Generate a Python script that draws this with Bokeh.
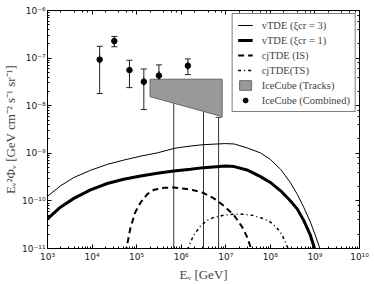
import numpy as np
from bokeh.plotting import figure
from bokeh.models import (ColumnDataSource, Whisker, TeeHead, LogAxis,
                          CustomJSTickFormatter, Legend, LegendItem)
from bokeh.embed import file_html
from bokeh.resources import INLINE

# ---- data ----
e_xi3 = [1e3, 1.95e3, 3.9e3, 9.2e3, 2.2e4, 5.1e4, 1.23e5, 2.9e5, 6.8e5, 9.5e5, 1.62e6, 3.2e6, 9.8e6, 1.55e7,
         3e7, 6e7, 1e8, 1.7e8, 2.8e8, 4e8, 5.6e8, 7.9e8, 1.02e9, 1.29e9, 1.4e9]
f_xi3 = [1.25e-10, 2.07e-10, 3.1e-10, 4.39e-10, 5.85e-10, 7.19e-10, 8.71e-10, 1.02e-9, 1.26e-9, 1.33e-9, 1.42e-9,
         1.52e-9, 1.6e-9, 1.57e-9, 1.3e-9, 1.02e-9, 7.43e-10, 4.6e-10, 2.44e-10, 1.39e-10, 7.36e-11, 3.59e-11,
         1.9e-11, 1e-11, 6e-12]

e_xi1 = [1e3, 1.95e3, 3.9e3, 9.2e3, 2.2e4, 5.1e4, 1.23e5, 2.9e5, 6.8e5, 1.62e6, 3.2e6, 9.8e6, 1.55e7,
         3e7, 6e7, 1e8, 1.7e8, 2.8e8, 4e8, 5.6e8, 7.9e8, 9.8e8, 1.08e9]
f_xi1 = [4.2e-11, 7.36e-11, 1.13e-10, 1.71e-10, 2.32e-10, 2.85e-10, 3.34e-10, 3.8e-10, 4.25e-10, 4.6e-10,
         5.0e-10, 5.4e-10, 5.25e-10, 4.47e-10, 3.24e-10, 2.44e-10, 1.63e-10, 1.01e-10, 6.8e-11, 3.9e-11,
         1.9e-11, 1e-11, 6e-12]

e_is = [5.3e4, 5.9e4, 7.2e4, 9.3e4, 1.23e5, 1.74e5, 2.45e5, 4.1e5, 6.8e5, 1.35e6, 1.9e6, 3.2e6, 5.4e6,
        9.1e6, 1.55e7, 2.35e7, 3e7, 3.7e7, 4.2e7]
f_is = [5e-12, 1e-11, 2.6e-11, 5.8e-11, 9.3e-11, 1.39e-10, 1.71e-10, 1.88e-10, 1.92e-10, 1.77e-10, 1.68e-10,
        1.46e-10, 1.13e-10, 7.9e-11, 4.9e-11, 2.8e-11, 1.75e-11, 1e-11, 6e-12]

e_ts = [1.2e6, 1.41e6, 1.9e6, 2.7e6, 3.8e6, 5.4e6, 9.1e6, 1.55e7, 2.6e7, 4.3e7, 7.2e7, 1e8, 1.4e8, 1.8e8,
        2.5e8, 2.8e8]
f_ts = [6e-12, 1e-11, 1.9e-11, 2.95e-11, 3.9e-11, 4.5e-11, 5.0e-11, 5.25e-11, 5.25e-11, 4.9e-11, 4.2e-11,
        3.6e-11, 2.7e-11, 2.0e-11, 1e-11, 6e-12]

comb_e = [1.48e4, 3.16e4, 6.9e4, 1.45e5, 3.16e5, 1.41e6]
comb_f = [9.3e-8, 2.28e-7, 5.6e-8, 3.2e-8, 4.3e-8, 6.9e-8]
comb_hi = [1.77e-7, 2.85e-7, 9e-8, 5.9e-8, 7.2e-8, 9.6e-8]
comb_lo = [1.8e-8, 1.73e-7, 2.4e-8, 8.3e-9, 2.0e-8, 4.5e-8]

ul_e = [6.8e5, 3.16e6, 6.9e6]
ul_hi = [1.4e-8, 1.4e-8, 5.7e-9]
ul_lo = [1e-12, 1e-12, 1e-12]

tr_e = [2e5, 8.3e6, 8.3e6, 2e5]
tr_f = [3.6e-8, 3.6e-8, 5.9e-9, 1.55e-8]

SERIF = "Liberation Serif"
SANS = "DejaVu Sans"

p = figure(width=374, height=284, x_axis_type="log", y_axis_type="log",
           x_range=(1e3, 1e10), y_range=(1e-11, 1e-6),
           output_backend="svg", toolbar_location=None,
           min_border_left=47, min_border_right=15, min_border_top=10, min_border_bottom=34)
p.grid.visible = False
p.outline_line_color = "black"
p.outline_line_width = 1
p.background_fill_color = "white"
p.border_fill_color = "white"

sup_code = """
const e = Math.round(Math.log10(tick));
const sup = {'-':'\u207b','0':'\u2070','1':'\u00b9','2':'\u00b2','3':'\u00b3','4':'\u2074','5':'\u2075','6':'\u2076','7':'\u2077','8':'\u2078','9':'\u2079'};
return '10' + String(e).split('').map(c => sup[c]).join('');
"""
for ax in (p.xaxis[0], p.yaxis[0]):
    ax.formatter = CustomJSTickFormatter(code=sup_code)
    ax.major_tick_in = 4
    ax.major_tick_out = 0
    ax.minor_tick_in = 2
    ax.minor_tick_out = 0
    ax.axis_line_color = None
    ax.major_label_text_font = SANS
    ax.major_label_text_font_size = "9px"
    ax.major_label_text_color = "#222222"
    ax.axis_label_text_font = SERIF
    ax.axis_label_text_font_style = "normal"
    ax.axis_label_text_font_size = "13px"
    ax.major_label_standoff = 3

p.xaxis[0].axis_label = "E\u1d65 [GeV]"
p.yaxis[0].axis_label = "E\u1d65\u00b2\u03a6\u1d65 [GeV cm\u207b\u00b2 s\u207b\u00b9 sr\u207b\u00b9]"
p.xaxis[0].axis_label_standoff = 2
p.yaxis[0].axis_label_standoff = 1
p.yaxis[0].major_label_standoff = 2

empty = CustomJSTickFormatter(code="return '';")
for loc in ("above", "right"):
    ax = LogAxis(formatter=empty, major_tick_in=4, major_tick_out=0,
                 minor_tick_in=2, minor_tick_out=0, axis_line_color=None,
                 major_label_standoff=0, major_label_text_font_size="0px")
    p.add_layout(ax, loc)

# IceCube tracks band
r_tr = p.patch(tr_e, tr_f, fill_color="#999999", line_color="#666666", line_width=1)

# model curves
r3 = p.line(e_xi3, f_xi3, line_color="black", line_width=1)
r1 = p.line(e_xi1, f_xi1, line_color="black", line_width=3)
ris = p.line(e_is, f_is, line_color="black", line_width=2, line_dash="6 4")
rts = p.line(e_ts, f_ts, line_color="black", line_width=1.5, line_dash="3 3 1 3")

# upper-limit style bars
ul_src = ColumnDataSource(dict(x=ul_e, hi=ul_hi, lo=ul_lo))
p.add_layout(Whisker(source=ul_src, base="x", upper="hi", lower="lo", dimension="height",
                     line_color="#333333", line_width=1,
                     upper_head=TeeHead(size=6, line_color="#333333", line_width=1),
                     lower_head=None))

# combined points
c_src = ColumnDataSource(dict(x=comb_e, y=comb_f, hi=comb_hi, lo=comb_lo))
p.add_layout(Whisker(source=c_src, base="x", upper="hi", lower="lo", dimension="height",
                     line_color="#222222", line_width=1,
                     upper_head=TeeHead(size=6, line_color="#222222", line_width=1),
                     lower_head=TeeHead(size=6, line_color="#222222", line_width=1)))
r_bar = p.scatter("x", "y", source=c_src, marker="dash", angle=np.pi / 2, size=9,
                  line_color="#222222", line_width=1)
r_pt = p.scatter("x", "y", source=c_src, marker="circle", size=5.5,
                 fill_color="black", line_color="black")

legend = Legend(items=[
    LegendItem(label="vTDE (\u03becr = 3)", renderers=[r3]),
    LegendItem(label="vTDE (\u03becr = 1)", renderers=[r1]),
    LegendItem(label="cjTDE (IS)", renderers=[ris]),
    LegendItem(label="cjTDE(TS)", renderers=[rts]),
    LegendItem(label="IceCube (Tracks)", renderers=[r_tr]),
    LegendItem(label="IceCube (Combined)", renderers=[r_bar, r_pt]),
], location="top_right")
legend.label_text_font = SERIF
legend.label_text_font_size = "10.5px"
legend.label_height = 12
legend.glyph_height = 12
legend.glyph_width = 15
legend.spacing = 3
legend.padding = 5
legend.margin = 3
legend.label_standoff = 9
legend.border_line_color = "black"
legend.border_line_width = 1
legend.background_fill_alpha = 1
p.add_layout(legend)

open("out.html", "w").write(file_html(p, INLINE))
